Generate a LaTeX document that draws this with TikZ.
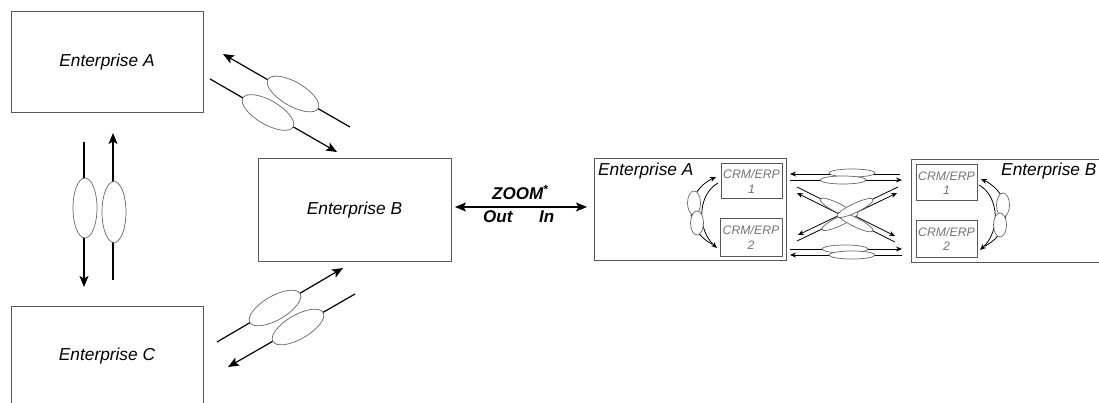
\documentclass[tikz,border=0pt]{standalone}
\usepackage{fontspec}
\setmainfont{Liberation Sans}
\usetikzlibrary{arrows.meta,shapes.geometric}
\begin{document}
\begin{tikzpicture}[x=1pt,y=-1pt,
  box/.style={draw=black!65,line width=1pt,rectangle,inner sep=0pt},
  lbl/.style={font=\fontsize{17.3}{20}\selectfont\itshape,inner sep=0pt},
  zlbl/.style={font=\fontsize{17}{20}\selectfont\bfseries\itshape,inner sep=0pt},
  small/.style={font=\fontsize{12.3}{14.5}\selectfont\itshape,text=black!55,align=center,inner sep=0pt},
  conn/.style={line width=1.2pt,-{Stealth[length=11pt,width=9pt,inset=2.5pt]}},
  oval/.style={draw=black!60,line width=0.7pt,ellipse,fill=white,inner sep=0pt},
  thin/.style={line width=0.8pt,-{Stealth[length=6pt,width=5pt]}},
]
\useasboundingbox (0,0) rectangle (1099,403);

% left side enterprises
\node[box,lbl,minimum width=192pt,minimum height=101pt] (eA) at (107,62) {Enterprise A};
\node[box,lbl,minimum width=192pt,minimum height=100pt] (eC) at (107,356) {Enterprise C};
\node[box,lbl,minimum width=193pt,minimum height=102pt] (eB) at (354.5,210) {Enterprise B};

% vertical A-C connectors
\coordinate (v1s) at (84,142); \coordinate (v1e) at (84,287);
\coordinate (v2s) at (113,280); \coordinate (v2e) at (113,133);
\draw[conn] (v1s) -- (v1e);
\draw[conn] (v2s) -- (v2e);
\node[oval,minimum width=24pt,minimum height=60pt] (ov1) at (85,208) {};
\node[oval,minimum width=24pt,minimum height=61pt] (ov2) at (114,212) {};

% diagonal A-B connectors
\coordinate (ab1s) at (350,127); \coordinate (ab1e) at (223,54);
\coordinate (ab2s) at (210,79); \coordinate (ab2e) at (337,152);
\draw[conn] (ab1s) -- (ab1e);
\draw[conn] (ab2s) -- (ab2e);
\node[oval,minimum width=58pt,minimum height=24pt,rotate=-30] (oab1) at (293,94) {};
\node[oval,minimum width=58pt,minimum height=24pt,rotate=-30] (oab2) at (268,112.5) {};

% diagonal C-B connectors
\coordinate (cb1s) at (217,342); \coordinate (cb1e) at (343,268);
\coordinate (cb2s) at (355,294); \coordinate (cb2e) at (228,367);
\draw[conn] (cb1s) -- (cb1e);
\draw[conn] (cb2s) -- (cb2e);
\node[oval,minimum width=58pt,minimum height=24pt,rotate=30] (ocb1) at (275,308) {};
\node[oval,minimum width=58pt,minimum height=24pt,rotate=30] (ocb2) at (298,327) {};

% zoom arrow
\coordinate (zl) at (455,207); \coordinate (zr) at (587,207);
\draw[line width=1.2pt,{Stealth[length=11pt,width=9pt,inset=2.5pt]}-{Stealth[length=11pt,width=9pt,inset=2.5pt]}] (zl) -- (zr);
\node[zlbl,anchor=base west] (zoomt) at (492,200) {ZOOM\textsuperscript{*}};
\node[zlbl,anchor=base west] (outt) at (483,223) {Out};
\node[zlbl,anchor=base west] (int) at (539,223) {In};

% right: zoomed view
\node[box,minimum width=192pt,minimum height=101pt] (zA) at (690,209.5) {};
\node[lbl,anchor=base west] (zAt) at (598,176) {Enterprise A};
\node[box,small,minimum width=61pt,minimum height=35pt] (a1) at (751.5,181.5) {CRM/ERP\\1};
\node[box,small,minimum width=62pt,minimum height=37pt] (a2) at (751,237.5) {CRM/ERP\\2};

\node[box,minimum width=199pt,minimum height=102pt] (zB) at (1010.5,211) {};
\node[lbl,anchor=base west] (zBt) at (1001,176) {Enterprise B};
\node[box,small,minimum width=61pt,minimum height=36pt] (b1) at (946.5,183) {CRM/ERP\\1};
\node[box,small,minimum width=61pt,minimum height=36pt] (b2) at (946.5,239) {CRM/ERP\\2};

% internal curved connectors in A
\coordinate (ca1s) at (712,244); \coordinate (ca1e) at (716,177);
\coordinate (ca2s) at (718,183); \coordinate (ca2e) at (717,248);
\draw[thin] (ca1s) .. controls (684,230) and (684,192) .. (ca1e);
\draw[thin] (ca2s) .. controls (697,195) and (697,230) .. (ca2e);
\node[oval,minimum width=13pt,minimum height=24pt] (oca1) at (694,203) {};
\node[oval,minimum width=13pt,minimum height=24pt] (oca2) at (697,223) {};

% internal curved connectors in B
\coordinate (cb1s') at (985,246); \coordinate (cb1e') at (981,179);
\coordinate (cb2s') at (979,185); \coordinate (cb2e') at (980,250);
\draw[thin] (cb1s') .. controls (1013,232) and (1013,194) .. (cb1e');
\draw[thin] (cb2s') .. controls (1000,197) and (1000,232) .. (cb2e');
\node[oval,minimum width=13pt,minimum height=24pt] (ocb1') at (1003,205) {};
\node[oval,minimum width=13pt,minimum height=24pt] (ocb2') at (1000,225) {};

% horizontal pairs between A and B
\coordinate (t1s) at (900,174); \coordinate (t1e) at (790,174);
\coordinate (t2s) at (790,180); \coordinate (t2e) at (902,180);
\coordinate (u1s) at (790,249); \coordinate (u1e) at (902,249);
\coordinate (u2s) at (902,255); \coordinate (u2e) at (790,255);
\draw[thin] (t1s) -- (t1e);
\draw[thin] (t2s) -- (t2e);
\draw[thin] (u1s) -- (u1e);
\draw[thin] (u2s) -- (u2e);
% crossing pairs
\coordinate (d1s) at (797,187); \coordinate (d1e) at (895,236);
\coordinate (d2s) at (895,242); \coordinate (d2e) at (797,193);
\coordinate (d3s) at (797,241); \coordinate (d3e) at (897,193);
\coordinate (d4s) at (898,187); \coordinate (d4e) at (798,235);
\draw[thin] (d1s) -- (d1e);
\draw[thin] (d2s) -- (d2e);
\draw[thin] (d3s) -- (d3e);
\draw[thin] (d4s) -- (d4e);

\node[oval,minimum width=46pt,minimum height=8pt] (ot1) at (852,173) {};
\node[oval,minimum width=46pt,minimum height=8pt] (ot2) at (843,180) {};
\node[oval,minimum width=46pt,minimum height=8pt] (ou1) at (845,249) {};
\node[oval,minimum width=46pt,minimum height=8pt] (ou2) at (852,255) {};
\node[oval,minimum width=40pt,minimum height=9pt,rotate=-26.6] (od1) at (838,208) {};
\node[oval,minimum width=40pt,minimum height=9pt,rotate=25.6] (od3) at (840,221) {};
\node[oval,minimum width=40pt,minimum height=9pt,rotate=-26.6] (od2) at (855,222) {};
\node[oval,minimum width=40pt,minimum height=9pt,rotate=25.6] (od4) at (855,208) {};
\end{tikzpicture}
\end{document}
